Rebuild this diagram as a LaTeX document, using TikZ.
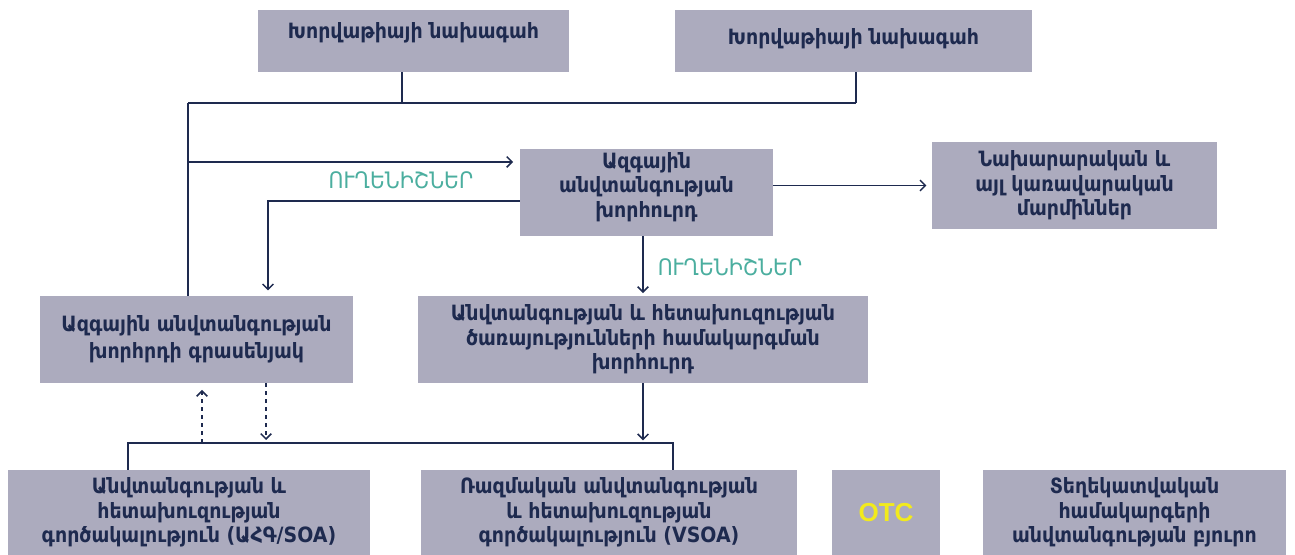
\documentclass[tikz,border=0pt]{standalone}
\usepackage{fontspec}
\setmainfont{DejaVu Sans Condensed}[BoldFont={DejaVu Sans Condensed Bold}]
\newfontfamily\arialb{Liberation Sans}[Scale=1.0]
\usetikzlibrary{arrows.meta}
\definecolor{boxfill}{HTML}{ACABBE}
\definecolor{navy}{HTML}{1E2A4F}
\definecolor{grn}{HTML}{4BAE9F}
\definecolor{otc}{HTML}{F2EA1C}
\begin{document}
\begin{tikzpicture}[x=0.75pt,y=-0.75pt,
  box/.style={fill=boxfill,inner sep=0pt,align=center,text=navy,font=\bfseries\fontsize{15.8}{18.4}\selectfont},
  txt/.style={inner sep=0pt,align=center,text=navy,font=\bfseries\fontsize{15.8}{18.4}\selectfont},
  ln/.style={draw=navy,line width=1.1pt},
  arr/.style={ln,-{Straight Barb[length=4pt,width=8pt,line width=1.1pt]}},
  lbl/.style={text=grn,font=\fontsize{17}{20}\selectfont}]
\useasboundingbox (0,0) rectangle (1295,555);
\node[box,minimum width=233.25pt,minimum height=46.5pt] (b1) at (413.5,41) {};
\node[txt] (t1) at ([yshift=6pt]b1.center) {Խորվաթիայի նախագահ};
\node[box,minimum width=267.75pt,minimum height=46.5pt] (b2) at (853.5,41) {};
\node[txt] (t2) at ([yshift=2pt]b2.center) {Խորվաթիայի նախագահ};
\node[box,minimum width=189.75pt,minimum height=65.25pt] (b3) at (646.5,192.5) {};
\node[txt] (t3) at ([yshift=4pt]b3.center) {Ազգային\\անվտանգության\\խորհուրդ};
\node[box,minimum width=234.75pt,minimum height=65.25pt] (b4) at (196.5,339.5) {Ազգային անվտանգության\\[2pt]խորհրդի գրասենյակ};
\node[box,minimum width=213.75pt,minimum height=65.25pt] (b5) at (1074.5,185.5) {Նախարարական և\\այլ կառավարական\\մարմիններ};
\node[box,minimum width=337.5pt,minimum height=65.25pt] (b6) at (643,339.5) {Անվտանգության և հետախուզության\\ծառայությունների համակարգման\\խորհուրդ};
\node[box,minimum width=271.5pt,minimum height=63.75pt] (b7) at (189,512.5) {Անվտանգության և\\հետախուզության\\գործակալություն (ԱՀԳ/SOA)};
\node[box,minimum width=282pt,minimum height=63.75pt] (b8) at (609,512.5) {Ռազմական անվտանգության\\և հետախուզության\\գործակալություն (VSOA)};
\node[box,minimum width=81pt,minimum height=63.75pt,text=otc,font=\arialb\bfseries\fontsize{19.5}{21}\selectfont] (b9) at (886,512.5) {OTC};
\node[box,minimum width=227.25pt,minimum height=63.75pt] (b10) at (1134.5,512.5) {Տեղեկատվական\\համակարգերի\\անվտանգության բյուրո};
% top connectors
\coordinate (tl) at (188,103);
\coordinate (p1) at (402,103);
\coordinate (p2) at (856,103);
\draw[ln] (p1 |- b1.south) -- (p1);
\draw[ln] (p2 |- b2.south) -- (p2);
\draw[ln] (tl) -- (p2);
\draw[ln] (tl) -- (tl |- b4.north);
\coordinate (a1) at (188,162);
\draw[arr] (a1) -- ([xshift=-5pt]a1 -| b3.west);
\node[lbl] (l1) at (401,180) {ՈՒՂԵՆԻՇՆԵՐ};
\coordinate (q) at (268,201);
\draw[arr] (q -| b3.west) -| ([yshift=4pt]q |- b4.north);
\draw[arr] (b3.east |- b5.west) -- ([xshift=-4pt]b5.west);
\draw[arr] (b6.north |- b3.south) -- ([yshift=2pt]b6.north);
\node[lbl] (l2) at (730,267) {ՈՒՂԵՆԻՇՆԵՐ};
% lower bus
\coordinate (bl) at (128,443);
\coordinate (br) at (673,443);
\draw[arr] (b6.south) -- ([yshift=2pt]b6.south |- bl);
\draw[ln] (b7.north -| bl) -- (bl) -- (br) -- (br |- b8.north);
\coordinate (d1) at (202,443);
\coordinate (d2) at (266,440);
\draw[arr,dashed,line width=0.9pt] (d1) -- ([yshift=-5pt]d1 |- b4.south);
\draw[arr,dashed,line width=0.9pt] (d2 |- b4.south) -- (d2);
\end{tikzpicture}
\end{document}
